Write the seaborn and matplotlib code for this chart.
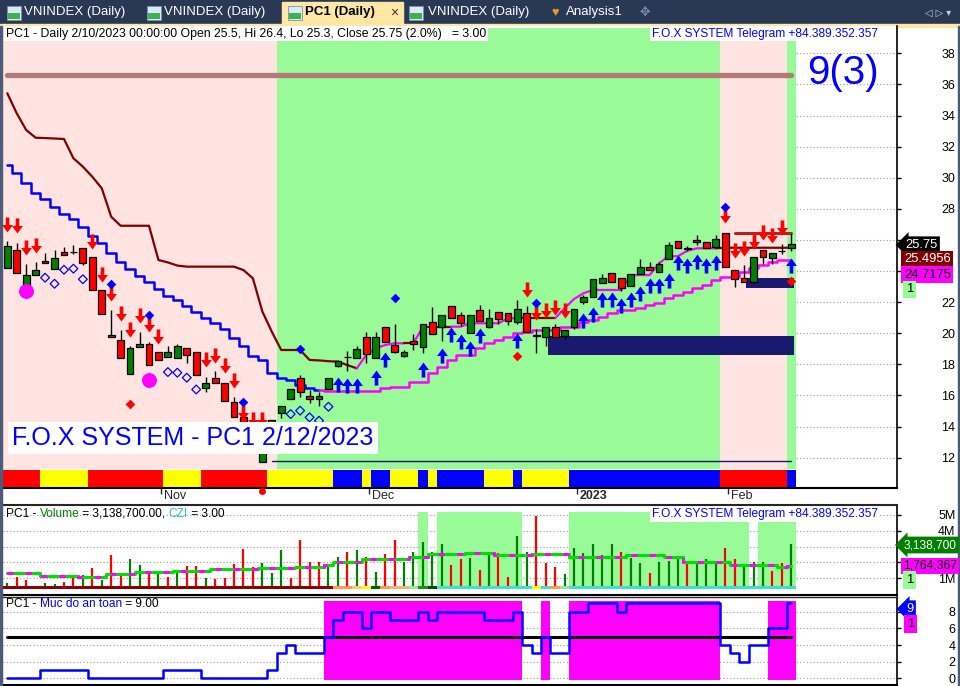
import numpy as np
import pandas as pd
import matplotlib
matplotlib.use("Agg")
import matplotlib.pyplot as plt
import seaborn as sns
from matplotlib.patches import Rectangle
from matplotlib.path import Path
from matplotlib.text import Annotation
from matplotlib.transforms import ScaledTranslation

# ------------------------------------------------------------------ data
opens = [24.22, 25.35, 22.99, 23.72, 24.64, 24.11, 25.20, 25.20, 25.46, 24.88,
         22.78, 19.88, 19.54, 17.36, 19.09, 19.29, 18.77, 18.45, 18.39, 19.03,
         18.77, 16.46, 17.10, 16.78, 15.56, 14.60, 13.60, 11.74, 12.90, 14.85,
         15.75, 17.10, 15.96, 15.77, 16.39, 17.87, 18.45, 18.39, 19.74, 18.39,
         20.42, 19.22, 18.55, 19.48, 19.13, 20.70, 20.42, 21.73, 21.15, 19.99,
         21.47, 20.42, 21.34, 21.28, 20.74, 21.28, 19.84, 19.78, 20.38, 19.84,
         20.42, 21.99, 22.31, 23.25, 23.85, 23.53, 23.06, 23.83, 24.24, 23.96,
         24.75, 25.91, 25.44, 25.97, 25.85, 25.52, 26.42, 24.05, 23.53, 23.27,
         25.33, 24.82, 25.26, 25.50]
highs = [25.93, 25.82, 24.43, 24.56, 25.16, 25.35, 25.54, 25.67, 25.46, 24.88,
         22.78, 21.49, 20.20, 19.18, 20.06, 19.45, 18.77, 19.18, 19.30, 19.03,
         18.77, 17.20, 17.59, 16.78, 15.88, 14.70, 13.80, 12.60, 14.42, 15.33,
         16.39, 17.31, 16.35, 16.20, 17.10, 18.30, 18.87, 19.20, 20.10, 20.10,
         20.42, 20.59, 18.90, 19.93, 20.57, 21.67, 21.15, 21.73, 21.35, 21.15,
         21.79, 21.55, 21.34, 21.28, 22.13, 21.75, 20.25, 20.38, 20.60, 20.21,
         21.54, 22.45, 23.47, 23.81, 23.85, 23.53, 23.79, 24.75, 24.60, 24.60,
         25.85, 25.91, 25.60, 26.30, 25.85, 26.30, 26.42, 24.05, 24.37, 24.88,
         25.33, 25.14, 25.72, 26.40]
lows = [24.22, 23.85, 22.78, 23.72, 24.50, 24.11, 25.01, 25.10, 24.39, 22.76,
        21.22, 19.74, 18.39, 17.36, 19.09, 17.94, 18.26, 18.45, 18.39, 18.10,
        17.29, 16.24, 16.78, 15.62, 14.59, 13.40, 12.30, 11.74, 12.60, 14.53,
        15.75, 15.88, 15.53, 15.34, 16.39, 17.80, 17.59, 18.39, 18.06, 18.39,
        19.45, 18.70, 18.45, 18.92, 18.71, 19.97, 19.52, 20.96, 20.45, 19.99,
        20.77, 20.35, 20.60, 20.55, 20.60, 20.06, 18.71, 19.18, 19.74, 19.60,
        20.30, 21.90, 22.31, 23.25, 23.31, 22.70, 23.06, 23.83, 24.05, 23.96,
        24.75, 25.46, 25.30, 25.70, 25.46, 25.52, 24.24, 22.99, 23.27, 23.27,
        24.43, 24.43, 25.07, 25.30]
closes = [25.61, 23.85, 23.72, 24.06, 24.50, 24.82, 25.01, 25.22, 24.50, 22.76,
          21.22, 19.74, 18.39, 19.03, 19.30, 17.94, 18.26, 18.77, 19.18, 18.58,
          17.29, 16.78, 16.78, 15.62, 14.59, 13.60, 12.50, 12.60, 14.42, 15.33,
          16.39, 16.20, 15.77, 15.96, 17.10, 18.21, 18.47, 18.96, 18.66, 19.74,
          19.45, 18.81, 18.77, 19.29, 20.57, 19.97, 21.15, 20.96, 20.64, 21.15,
          20.77, 20.96, 20.90, 20.77, 21.54, 20.06, 19.86, 20.38, 19.74, 20.21,
          21.54, 22.31, 23.47, 23.53, 23.31, 22.93, 23.79, 24.24, 24.05, 24.43,
          25.65, 25.46, 25.46, 25.85, 25.46, 26.04, 24.24, 23.50, 23.27, 24.88,
          24.88, 25.14, 25.28, 25.75]

# slow trailing stop (maroon in down trend / magenta in up trend)
slow_stop = [35.43, 34.14, 33.07, 32.57, 32.55, 32.52, 32.49, 31.25, 30.71, 30.06,
             29.32, 27.49, 26.91, 26.91, 26.91, 26.91, 24.71, 24.55, 24.35, 24.28,
             24.28, 24.28, 24.28, 24.28, 24.28, 24.06, 23.53, 21.40, 20.10, 18.92,
             18.92, 18.92, 18.28, 18.25, 18.20, 18.17, 17.95, 17.74, 18.60, 19.03,
             19.24, 19.35, 19.35, 19.35, 20.42, 20.42, 20.42, 20.42, 20.42, 20.64,
             20.64, 20.64, 20.64, 20.96, 20.96, 20.96, 20.96, 20.96, 20.96, 21.60,
             22.20, 22.57, 22.78, 22.78, 22.78, 22.78, 23.74, 23.74, 23.74, 24.50,
             24.95, 24.95, 25.30, 25.46, 25.46, 25.46, 25.4956, 25.4956, 25.4956, 25.4956,
             25.4956, 25.4956, 25.4956, 25.4956]
slow_color_runs = [("#800000", 38), ("#ff00ff", 5), ("#800000", 1), ("#ff00ff", 1),
                   ("#800000", 3), ("#ff00ff", 7), ("#800000", 4), ("#ff00ff", 17),
                   ("#800000", 8)]
# fast step stop (blue in down trend / magenta in up trend)
fast_stop = [30.82, 30.28, 29.64, 29.04, 28.61, 28.14, 27.67, 27.32, 26.85, 26.27,
             25.78, 25.18, 24.60, 24.13, 23.70, 23.31, 22.84, 22.39, 22.13, 21.75,
             21.34, 21.00, 20.64, 20.27, 19.71, 19.18, 18.55, 18.28, 17.42, 17.10,
             16.99, 16.67, 16.46, 16.35, 16.26, 16.28, 16.28, 16.28, 16.28, 16.28,
             16.45, 16.56, 16.56, 16.84, 16.84, 17.42, 17.85, 18.28, 18.60, 18.60,
             19.03, 19.35, 19.56, 19.78, 19.99, 20.10, 20.21, 20.21, 20.21, 20.42,
             20.42, 20.74, 20.85, 21.06, 21.32, 21.49, 21.49, 21.64, 21.81, 21.96,
             22.24, 22.46, 22.67, 22.89, 23.10, 23.42, 23.63, 23.63, 23.96, 24.17,
             24.39, 24.60, 24.71, 24.7175]
fast_color_runs = [("#0000ff", 34), ("#ff00ff", 50)]

zone_runs = [("#ffe4e1", 29), ("#98fb98", 47), ("#ffe4e1", 7), ("#98fb98", 1)]
strip_runs = [("#ff0000", 4), ("#ffff00", 5), ("#ff0000", 8), ("#ffff00", 4),
              ("#ff0000", 7), ("#ffff00", 7), ("#0000ff", 3), ("#ffff00", 1),
              ("#0000ff", 2), ("#ffff00", 3), ("#0000ff", 1), ("#ffff00", 1),
              ("#0000ff", 5), ("#ffff00", 3), ("#0000ff", 1), ("#ffff00", 5),
              ("#0000ff", 16), ("#ff0000", 7), ("#0000ff", 1)]

sell_bars = [0, 1, 2, 3, 9, 10, 11, 12, 13, 14, 15, 16, 21, 22, 23, 24, 25, 26, 27,
             55, 56, 57, 58, 59, 76, 77, 78, 79, 80, 81, 82]
sell_tips = [26.53, 26.42, 25.03, 25.18, 25.40, 23.31, 22.09, 20.80, 19.77, 20.68,
             20.10, 19.31, 17.85, 18.06, 17.42, 16.46, 14.42, 13.99, 13.99,
             22.35, 20.85, 20.96, 21.17, 20.96, 27.07, 24.82, 24.96, 25.40, 26.00,
             25.82, 26.32]
buy_bars = [35, 36, 37, 39, 40, 44, 46, 47, 48, 49, 50, 54, 61, 62, 63, 64, 65, 66,
            67, 68, 69, 70, 71, 72, 73, 74, 75, 83]
buy_tips = [17.20, 17.10, 17.10, 17.63, 18.81, 18.17, 19.03, 20.42, 19.93, 19.52,
            20.31, 19.99, 21.28, 21.70, 22.63, 22.67, 22.24, 22.63, 23.05, 23.53,
            23.53, 23.89, 25.03, 24.82, 25.07, 24.86, 25.03, 24.82]
dot_hi_bars = [11, 15, 25, 31, 41, 56, 76]
dot_hi_prices = [23.16, 21.17, 15.56, 18.96, 22.28, 21.96, 28.13]
dot_lo_bars = [13, 54, 83]
dot_lo_prices = [15.47, 18.53, 23.38]
ring_bars = [4, 5, 6, 7, 8, 17, 18, 19, 20, 30, 31, 32, 33, 34]
ring_prices = [23.57, 23.18, 24.08, 24.15, 23.47, 17.50, 17.46, 17.14, 16.38,
               14.80, 15.02, 14.59, 14.37, 15.27]
circle_bars = [2, 15]
circle_prices = [22.73, 16.97]

resistance_level = 36.6
support_level = 11.77
support_start = 28
box_start = [57, 78]
box_end = [83, 83]
box_low = [18.62, 22.93]
box_high = [19.82, 23.53]
red_level = 26.46
red_level_start = 77

volume = [0.72, 1.10, 0.89, 0.42, 0.68, 0.63, 0.78, 1.05, 1.20, 1.62,
          0.89, 2.47, 1.20, 2.19, 1.84, 1.41, 1.31, 1.10, 1.41, 1.77,
          1.77, 1.03, 0.93, 0.99, 1.88, 2.83, 1.73, 1.94, 1.31, 2.78,
          1.03, 3.42, 2.05, 2.05, 1.73, 2.32, 2.68, 2.78, 2.36, 1.41,
          2.53, 3.42, 2.05, 2.68, 3.27, 2.64, 3.14, 1.84, 2.19, 2.26,
          1.52, 2.68, 2.57, 1.10, 3.69, 2.68, 4.96, 1.94, 1.73, 1.27,
          2.93, 2.62, 3.19, 2.47, 3.14, 2.68, 2.26, 1.94, 1.31, 2.05,
          2.11, 2.19, 1.94, 1.94, 2.19, 1.94, 2.93, 2.19, 1.73, 2.05,
          2.00, 1.48, 1.98, 3.1387]  # millions
volume_up = [1, 0, 0, 1, 1, 1, 0, 0, 1, 0, 1, 0, 0, 1, 1, 0, 1, 0, 1, 0,
             0, 1, 0, 0, 0, 0, 0, 1, 1, 1, 0, 0, 0, 0, 1, 1, 0, 1, 0, 1,
             0, 0, 1, 1, 1, 1, 1, 0, 0, 1, 0, 1, 0, 0, 1, 1, 0, 0, 0, 1,
             1, 1, 1, 1, 1, 0, 1, 1, 0, 1, 1, 1, 0, 1, 1, 1, 0, 0, 1, 1,
             1, 0, 0, 1]
volume_ma = [1.31, 1.31, 1.31, 1.31, 1.14, 1.14, 1.14, 1.14, 1.10, 1.10,
             1.10, 1.26, 1.26, 1.26, 1.41, 1.41, 1.41, 1.41, 1.48, 1.48,
             1.48, 1.48, 1.56, 1.56, 1.56, 1.56, 1.56, 1.62, 1.62, 1.62,
             1.62, 1.73, 1.73, 1.73, 1.84, 2.05, 2.05, 2.05, 2.19, 2.19,
             2.19, 2.19, 2.19, 2.36, 2.36, 2.51, 2.51, 2.51, 2.51, 2.57,
             2.57, 2.57, 2.47, 2.47, 2.47, 2.47, 2.51, 2.51, 2.51, 2.51,
             2.36, 2.36, 2.36, 2.36, 2.36, 2.36, 2.47, 2.47, 2.47, 2.47,
             2.32, 2.32, 2.05, 2.05, 2.05, 2.05, 2.05, 1.84, 1.84, 1.84,
             1.84, 1.84, 1.73, 1.764367]
vol_strip_runs = [("#8b0000", 35), ("#ff9955", 2), ("#ffcc66", 1), ("#ffff00", 1),
                  ("#006400", 1), ("#ff9955", 1), ("#ffb070", 2), ("#90ee90", 1),
                  ("#228b22", 1), ("#004d00", 1), ("#40e0d0", 10), ("#ffff00", 1),
                  ("#40e0d0", 1), ("#ff9955", 1), ("#90ee90", 1), ("#40e0d0", 24)]
vol_zone_start = [44, 46, 60, 80]
vol_zone_end = [44, 54, 78, 83]
vol_zone_top = [5.2, 5.2, 5.2, 4.6]

safety = [0, 0, 0, 0, 1, 1, 1, 1, 1, 0, 0, 0, 0, 0, 0, 0, 0, 1, 1, 1,
          1, 0, 0, 0, 0, 0, 0, 0, 1, 3, 4, 3, 3, 3, 5, 7, 8, 8, 6, 8,
          8, 7, 7, 7, 8, 7, 8, 8, 8, 8, 8, 7, 7, 7, 8, 4, 3, 5, 3, 3,
          8, 8, 9, 9, 9, 8, 9, 9, 9, 9, 9, 9, 9, 9, 9, 9, 4, 3, 2, 4,
          4, 6, 6, 9]
safety_level = 5

month_pos = [16, 38, 60, 76]
month_labels = ["Nov", "Dec", "2023", "Feb"]
price_ticks = [12, 14, 16, 18, 20, 22, 24, 26, 28, 30, 32, 34, 36, 38]
price_hidden = [24, 26]          # covered by the value tags in the reference
volume_ticks = [1, 2, 3, 4, 5]
volume_tick_labels = ["1M", "", "", "4M", "5M"]   # 2M / 3M covered by tags
safety_ticks = [0, 2, 4, 6, 8]

# ------------------------------------------------------------------ setup
sns.set_style("white")
plt.rcParams["font.family"] = ["Liberation Sans", "DejaVu Sans"]

W, H = 960, 686
fig = plt.figure(figsize=(W / 100, H / 100), dpi=100)
fig.patch.set_facecolor("white")


def fx(x):
    return x / W


def fy(y):
    return 1 - y / H


def rect(x0, y0, x1, y1):
    return [fx(x0), fy(y1), fx(x1) - fx(x0), fy(y0) - fy(y1)]


def expand(runs):
    out = []
    for c, k in runs:
        out += [c] * k
    return out


n = len(closes)
bars = np.arange(n)
XL = (-0.455, 94.19)

ax = fig.add_axes(rect(3, 26, 897, 488))
axv = fig.add_axes(rect(3, 505, 897, 595))
axs = fig.add_axes(rect(3, 597, 897, 685))


def style_axis(a, ticks, labels, ylim, fs=9):
    a.set_xlim(*XL)
    a.set_ylim(*ylim)
    a.set_facecolor("white")
    a.yaxis.tick_right()
    a.set_yticks(ticks)
    a.set_yticklabels(labels)
    a.tick_params(axis="y", direction="out", length=3, width=1, pad=39,
                  labelsize=fs, colors="black", right=True, left=False)
    for t in a.get_yticklabels():
        t.set_horizontalalignment("right")
    a.grid(axis="y", color="#9a9a9a", linestyle=(0, (1, 2)), linewidth=0.8, zorder=0)
    a.grid(axis="x", visible=False)
    a.set_axisbelow(True)
    for s in ["left", "top", "bottom"]:
        a.spines[s].set_visible(False)
    a.spines["right"].set_color("black")
    a.spines["right"].set_linewidth(1.2)


style_axis(ax, price_ticks, ["" if t in price_hidden else str(t) for t in price_ticks],
           (10.045, 39.756))
style_axis(axv, volume_ticks, volume_tick_labels, (-0.06, 5.63))
style_axis(axs, safety_ticks, [str(t) for t in safety_ticks], (-0.8, 9.76))
for a in (ax, axv, axs):
    a.spines["bottom"].set_visible(True)
    a.spines["bottom"].set_color("black")
    a.spines["bottom"].set_linewidth(1.5)
axv.spines["top"].set_visible(True)
axv.spines["top"].set_linewidth(1.5)
axs.spines["top"].set_visible(True)
axs.spines["top"].set_linewidth(1.0)

# ------------------------------------------------------------------ price panel
zones = expand(zone_runs)
for i, c in enumerate(zones):
    ax.axvspan(i - 0.5, i + 0.5, ymin=0.041, ymax=0.996, color=c, lw=0, zorder=1)
strip = expand(strip_runs)
for i, c in enumerate(strip):
    ax.axvspan(i - 0.5, i + 0.5, ymin=0.002, ymax=0.039, color=c, lw=0, zorder=1)

sns.lineplot(x=[0, n - 1], y=[resistance_level] * 2, ax=ax, color="#b47a78",
             linewidth=3.8, legend=False, zorder=2)
sns.lineplot(x=[support_start, n - 1], y=[support_level] * 2, ax=ax, color="#191970",
             linewidth=1.0, legend=False, zorder=2)
for s, e, lo, hi in zip(box_start, box_end, box_low, box_high):
    ax.add_patch(Rectangle((s + 0.2, lo), e - s + 0.1, hi - lo, color="#191970",
                           lw=0, zorder=2))
sns.lineplot(x=[red_level_start, n - 1], y=[red_level] * 2, ax=ax, color="#b22222",
             linewidth=2.2, legend=False, zorder=3)


def colored_line(a, x, y, cols, lw, drawstyle="default", z=3):
    start = 0
    for i in range(1, len(x) + 1):
        if i == len(x) or cols[i] != cols[start]:
            s = max(start - 1, 0)
            sns.lineplot(x=list(x[s:i]), y=list(y[s:i]), ax=a, color=cols[start],
                         linewidth=lw, drawstyle=drawstyle, estimator=None,
                         sort=False, legend=False, zorder=z)
            start = i


colored_line(ax, bars, slow_stop, expand(slow_color_runs), 1.6)
colored_line(ax, bars, fast_stop, expand(fast_color_runs), 1.8, drawstyle="steps-mid")

for i in range(n):
    o, h, l, c = opens[i], highs[i], lows[i], closes[i]
    ax.vlines(i, l, h, color="black", lw=1.0, zorder=4)
    up = c >= o
    body = max(abs(c - o), 0.05)
    ax.add_patch(Rectangle((i - 0.36, min(o, c)), 0.72, body,
                           facecolor="#008000" if up else "#ff0000",
                           edgecolor="black", lw=0.9, zorder=5))

down_arrow = Path([(0, 0), (-0.36, 0.5), (-0.12, 0.5), (-0.12, 1.0), (0.12, 1.0),
                   (0.12, 0.5), (0.36, 0.5), (0, 0)])
up_arrow = Path([(0, 0), (-0.36, -0.5), (-0.12, -0.5), (-0.12, -1.0), (0.12, -1.0),
                 (0.12, -0.5), (0.36, -0.5), (0, 0)])
ax.scatter(sell_bars, sell_tips, marker=down_arrow, s=470, color="#ff0000",
           linewidths=0, zorder=6)
ax.scatter(buy_bars, buy_tips, marker=up_arrow, s=470, color="#0000ff",
           linewidths=0, zorder=6)
sns.scatterplot(x=dot_hi_bars, y=dot_hi_prices, ax=ax, marker="D", s=24,
                color="#0000ff", linewidth=0, zorder=6, legend=False)
sns.scatterplot(x=dot_lo_bars, y=dot_lo_prices, ax=ax, marker="D", s=24,
                color="#ff0000", linewidth=0, zorder=6, legend=False)
ax.scatter(ring_bars, ring_prices, marker="D", s=20, facecolors="none",
           edgecolors="#0000ff", linewidths=0.9, zorder=6)
sns.scatterplot(x=circle_bars, y=circle_prices, ax=ax, marker="o", s=115,
                color="#ff00ff", linewidth=0, zorder=6, legend=False)

# month axis: tick marks from the axis, labels just right of each tick
tick_x = np.array(month_pos) + 0.3
ax.set_xticks(tick_x)
ax.set_xticklabels([""] * len(tick_x))
ax.tick_params(axis="x", bottom=True, direction="out", length=4, width=1)
shift = ScaledTranslation(2 / 72, 0, fig.dpi_scale_trans)
for xp, lab in zip(tick_x, month_labels):
    ax.text(xp, -0.004, lab, transform=ax.get_xaxis_transform() + shift,
            ha="left", va="top", fontsize=9, clip_on=False,
            fontweight="bold" if lab == "2023" else "normal")
ax.plot([27], [-0.007], marker="o", ms=4, color="#ff0000",
        transform=ax.get_xaxis_transform(), clip_on=False, zorder=7)

# ------------------------------------------------------------------ volume panel
vlo, vhi = axv.get_ylim()
for s, e, top in zip(vol_zone_start, vol_zone_end, vol_zone_top):
    axv.axvspan(s - 0.5, e + 0.5, ymin=(0.3 - vlo) / (vhi - vlo),
                ymax=(top - vlo) / (vhi - vlo), color="#98fb98", lw=0, zorder=1)
vcols = ["#008000" if u else "#ff0000" for u in volume_up]
axv.vlines(bars, 0.5, volume, colors=vcols, lw=1.6, zorder=3)
vstrip = expand(vol_strip_runs)
for i, c in enumerate(vstrip):
    axv.add_patch(Rectangle((i - 0.5, 0.3), 1.0, 0.22, color=c, lw=0, zorder=4))
sns.lineplot(x=bars, y=volume_ma, ax=axv, color="#00e000", linewidth=2.2,
             drawstyle="steps-mid", estimator=None, legend=False, zorder=5)
sns.lineplot(x=bars, y=volume_ma, ax=axv, color="#ff00ff", linewidth=2.2,
             drawstyle="steps-mid", estimator=None, legend=False, zorder=5,
             linestyle=(0, (2, 4)))
axv.set_xticks([])

# ------------------------------------------------------------------ safety panel
for i, v in enumerate(safety):
    if v >= safety_level:
        axs.axvspan(i - 0.5, i + 0.5, ymin=0.06, ymax=0.955, color="#ff00ff",
                    lw=0, zorder=1)
sns.lineplot(x=[0, n - 1], y=[safety_level] * 2, ax=axs, color="black",
             linewidth=2.2, legend=False, zorder=3)
sns.lineplot(x=bars, y=safety, ax=axs, color="#0000ff", linewidth=1.8,
             drawstyle="steps-mid", estimator=None, legend=False, zorder=4)
axs.set_xticks([])

# ------------------------------------------------------------------ tab bar / frame
fig.add_artist(Rectangle((0, fy(24)), 1, 24 / H, transform=fig.transFigure,
                         color="#293955", zorder=0))
fig.add_artist(Rectangle((0, fy(26.5)), 1, 2.5 / H, transform=fig.transFigure,
                         color="#ffe8a6", zorder=0))
fig.add_artist(Rectangle((fx(282), fy(24)), fx(403) - fx(282), 22 / H,
                         transform=fig.transFigure, color="#ffe8a6", zorder=1))
for x0 in (7, 147, 288, 409):
    fig.add_artist(Rectangle((fx(x0), fy(20)), 14 / W, 14 / H, transform=fig.transFigure,
                             facecolor="#dce8f8", edgecolor="#7a8fb0", lw=0.6, zorder=2))
    fig.add_artist(Rectangle((fx(x0 + 1), fy(19)), 12 / W, 6 / H, transform=fig.transFigure,
                             facecolor="#3cb44b", lw=0, zorder=3))
tab_style = dict(fontsize=9.5, va="center", ha="left")
fig.text(fx(24), fy(12.5), "VNINDEX (Daily)", color="white", **tab_style)
fig.text(fx(164), fy(12.5), "VNINDEX (Daily)", color="white", **tab_style)
fig.text(fx(305), fy(12.5), "PC1 (Daily)", color="black", fontweight="bold", **tab_style)
fig.text(fx(390), fy(12.5), "×", color="#333333", fontsize=10, va="center", ha="left")
fig.text(fx(428), fy(12.5), "VNINDEX (Daily)", color="white", **tab_style)
fig.text(fx(551), fy(12.5), "♥", color="#e8a020", fontsize=9, va="center", ha="left")
fig.text(fx(566), fy(12.5), "Analysis1", color="white", **tab_style)
fig.text(fx(640), fy(12.5), "✥", color="#8090b0", fontsize=9, va="center", ha="left",
         family=["DejaVu Sans"])
fig.text(fx(925), fy(12.5), "◁ ▷ ▾", color="#c8d0e0", fontsize=7, va="center",
         ha="left", family=["DejaVu Sans"])
fig.add_artist(Rectangle((0, 0), 2 / W, fy(26), transform=fig.transFigure,
                         color="#4a5a78", zorder=5))
fig.add_artist(Rectangle((fx(958), 0), 2 / W, fy(26), transform=fig.transFigure,
                         color="#4a5a78", zorder=5))

# ------------------------------------------------------------------ texts
white_box = dict(facecolor="white", edgecolor="none", pad=1.2)
fig.text(fx(6), fy(33.5), "PC1 - Daily 2/10/2023 00:00:00 Open 25.5, Hi 26.4, Lo 25.3, "
         "Close 25.75 (2.0%)   = 3.00", fontsize=8.8, va="center", ha="left",
         color="black", bbox=white_box)
fig.text(fx(652), fy(33.5), "F.O.X SYSTEM Telegram +84.389.352.357", fontsize=8.6,
         va="center", ha="left", color="#0000ff", bbox=white_box)
fig.text(fx(807), fy(73), "9(3)", fontsize=29, va="center", ha="left", color="#0000ff")
fig.text(fx(12), fy(438), "F.O.X SYSTEM - PC1 2/12/2023", fontsize=18, va="center",
         ha="left", color="#0000ff",
         bbox=dict(facecolor="white", edgecolor="none", pad=3))


def rainbow(x, y, parts, fs=8.6):
    t = fig.text(fx(x), fy(y), parts[0][0], color=parts[0][1], fontsize=fs,
                 va="bottom", ha="left")
    for s, c in parts[1:]:
        t = Annotation(s, xy=(1, 0), xycoords=t, va="bottom", ha="left",
                       color=c, fontsize=fs)
        fig.add_artist(t)


rainbow(6, 520, [("PC1 - ", "black"), ("Volume", "#008000"),
                 (" = 3,138,700.00, ", "black"), ("CZI", "#20c0c8"),
                 (" = 3.00", "black")])
fig.text(fx(652), fy(514.5), "F.O.X SYSTEM Telegram +84.389.352.357", fontsize=8.6,
         va="center", ha="left", color="#0000ff", bbox=white_box)
rainbow(6, 610, [("PC1 - ", "black"), ("Muc do an toan", "#0000ff"),
                 (" = 9.00", "black")])


def value_tag(x, y, s, fc, tc, arrow=False, fs=9.4):
    style = "larrow,pad=0.2" if arrow else "square,pad=0.2"
    fig.text(fx(x), fy(y), s, fontsize=fs, va="center", ha="left", color=tc,
             bbox=dict(boxstyle=style, facecolor=fc, edgecolor="none"), zorder=10)


value_tag(905, 245, "25.75", "black", "white", arrow=True)
value_tag(904, 259.5, "25.4956", "#800000", "white")
value_tag(904, 274.5, "24.7175", "#ff00ff", "black")
value_tag(906, 289.5, "1", "#98fb98", "black")
value_tag(904, 545, "3,138,700", "#008000", "white", arrow=True, fs=8.6)
value_tag(903, 566, "1,764,367", "#ff00ff", "black", fs=8.8)
value_tag(906, 580, "1", "#98fb98", "black")
value_tag(906, 609, "9", "#0000ff", "white", arrow=True)
value_tag(907, 624, "1", "#ff00ff", "black")

fig.savefig("out.png", dpi=100, facecolor="white")
